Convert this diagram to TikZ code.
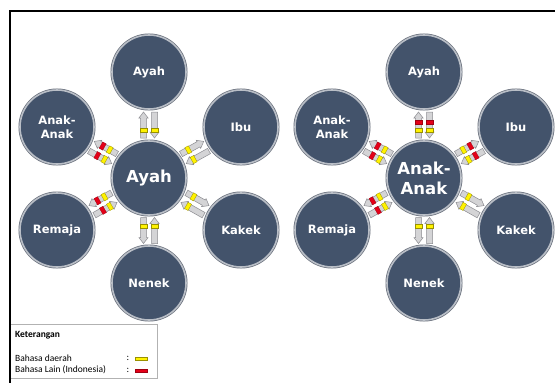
\documentclass[tikz,border=0pt]{standalone}
\usepackage{fontspec}
\setmainfont{DejaVu Sans}
\newfontfamily\legfont{Carlito}
\usetikzlibrary{calc}
\definecolor{circfill}{RGB}{67,83,107}
\definecolor{ringlight}{RGB}{185,190,198}
\definecolor{ringdark}{RGB}{105,112,124}
\definecolor{arrfill}{RGB}{212,212,214}
\definecolor{arrdraw}{RGB}{140,140,145}
\definecolor{markyel}{RGB}{255,242,0}
\definecolor{markred}{RGB}{228,0,24}
\tikzset{
  person/.style={circle, fill=circfill, draw=ringlight, line width=1.6pt,
    minimum size=74pt, inner sep=0pt, text=white, align=center,
    font=\bfseries\fontsize{11.5}{13.5}\selectfont,
    preaction={draw=ringdark, line width=3pt}},
  hub/.style={person, font=\bfseries\fontsize{16.5}{20}\selectfont},
  barrow/.pic={\path[fill=arrfill, draw=arrdraw, line width=0.5pt]
    (-13,-3) -- (7,-3) -- (7,-4.6) -- (13,0) -- (7,4.6) -- (7,3) -- (-13,3) -- cycle;},
  yelmark/.pic={\path[fill=markyel, draw=markyel!60!black, line width=0.3pt]
    (-2,-3.6) rectangle (2,3.6);},
  redmark/.pic={\path[fill=markred, draw=markred!70!black, line width=0.3pt]
    (-2,-3.6) rectangle (2,3.6);},
  legtext/.style={inner sep=0pt, font=\legfont\fontsize{9.5}{11}\selectfont},
  legbar/.style={inner sep=0pt, minimum width=12pt, minimum height=3pt, line width=0.3pt}
}
% #1 hub, #2 satellite, #3 side of arrow pointing to satellite, #4 side of arrow pointing to hub
\newcommand\linkY[4]{%
  \path let \p1=(#1.center), \p2=(#2.center), \n1={atan2(\y2-\y1,\x2-\x1)} in
    pic[rotate=\n1] at ($(#1)!0.5!(#2)!5.5pt!#3:(#2)$) {barrow}
    pic[rotate=\n1+180] at ($(#1)!0.5!(#2)!5.5pt!#4:(#2)$) {barrow}
    pic[rotate=\n1] at ($(#1)!48pt!(#2)!5.5pt!#3:(#2)$) {yelmark}
    pic[rotate=\n1] at ($(#1)!48pt!(#2)!5.5pt!#4:(#2)$) {yelmark};}
\newcommand\linkRY[4]{%
  \linkY{#1}{#2}{#3}{#4}%
  \path let \p1=(#1.center), \p2=(#2.center), \n1={atan2(\y2-\y1,\x2-\x1)} in
    pic[rotate=\n1] at ($(#1)!56pt!(#2)!5.5pt!#3:(#2)$) {redmark}
    pic[rotate=\n1] at ($(#1)!56pt!(#2)!5.5pt!#4:(#2)$) {redmark};}
\begin{document}
\begin{tikzpicture}[x=1pt, y=-1pt]
\useasboundingbox[fill=white] (0,0) rectangle (555,383);
% left diagram
\node[hub] (hubL) at (149,178) {Ayah};
\node[person] (topL) at (149,72) {Ayah};
\node[person] (aaL) at (57,127) {Anak-\\Anak};
\node[person] (ibuL) at (241,127) {Ibu};
\node[person] (remL) at (57,230) {Remaja};
\node[person] (kakL) at (241,230) {Kakek};
\node[person] (nenL) at (149,283) {Nenek};
\linkY{hubL}{topL}{90}{-90}
\linkRY{hubL}{aaL}{-90}{90}
\linkY{hubL}{ibuL}{90}{-90}
\linkRY{hubL}{remL}{-90}{90}
\linkY{hubL}{kakL}{90}{-90}
\linkY{hubL}{nenL}{-90}{90}
% right diagram
\node[hub] (hubR) at (424,178) {Anak-\\Anak};
\node[person] (topR) at (424,72) {Ayah};
\node[person] (aaR) at (332,127) {Anak-\\Anak};
\node[person] (ibuR) at (516,127) {Ibu};
\node[person] (remR) at (332,230) {Remaja};
\node[person] (kakR) at (516,230) {Kakek};
\node[person] (nenR) at (424,283) {Nenek};
\linkRY{hubR}{topR}{90}{-90}
\linkRY{hubR}{aaR}{-90}{90}
\linkRY{hubR}{ibuR}{90}{-90}
\linkRY{hubR}{remR}{-90}{90}
\linkY{hubR}{kakR}{90}{-90}
\linkY{hubR}{nenR}{-90}{90}
% legend
\node[draw=gray!60, fill=white, line width=0.6pt, minimum width=147pt,
  minimum height=54pt, inner sep=0pt, anchor=north west] (legend) at (10,324) {};
\node[legtext, anchor=west, font=\legfont\bfseries\fontsize{9.5}{11}\selectfont] (ket) at (15,335) {Keterangan};
\node[legtext, anchor=west] (bd) at (15,358) {Bahasa daerah};
\node[legtext, anchor=west] (bl) at (15,370) {Bahasa Lain (Indonesia)};
\node[legtext] (c1) at (128,358) {:};
\node[legtext] (c2) at (128,370) {:};
\node[legbar, fill=markyel, draw=markyel!60!black] (ybar) at (141,359) {};
\node[legbar, fill=markred, draw=markred!70!black] (rbar) at (141,370.5) {};
% frame
\draw[line width=1.4pt] (9,11) -- (555,11);
\draw[line width=1.4pt] (10,11) -- (10,383);
\end{tikzpicture}
\end{document}
